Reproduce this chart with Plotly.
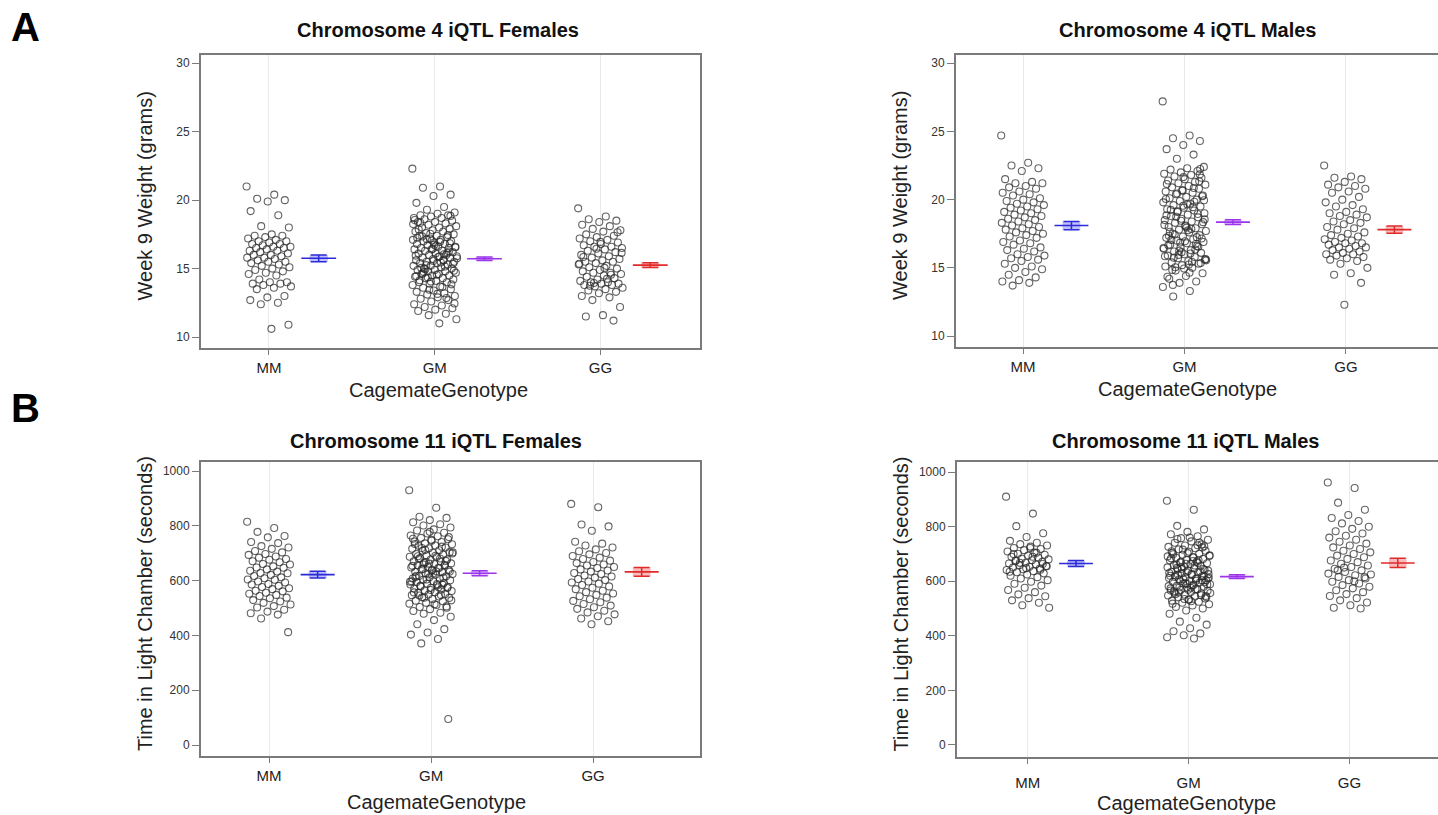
import plotly.graph_objects as go

W, H = 1438, 815

genotypes = ["MM", "GM", "GG"]
positions = [1, 2, 3]

# ---------------- Chromosome 4 iQTL Females: Week 9 weight (g) ----------------
f4_mm = [21.0, 20.4, 20.1, 20.0, 19.9, 19.2, 18.9, 18.1, 18.0, 17.5, 17.4, 17.4, 17.3, 17.2, 17.1,
         17.0, 17.0, 16.9, 16.8, 16.8, 16.7, 16.6, 16.6, 16.5, 16.5, 16.4, 16.3, 16.3, 16.2, 16.1,
         16.0, 16.0, 15.9, 15.8, 15.8, 15.7, 15.6, 15.5, 15.5, 15.4, 15.3, 15.2, 15.1, 15.0, 14.9,
         14.8, 14.7, 14.6, 14.5, 14.2, 14.0, 14.0, 13.9, 13.9, 13.8, 13.7, 13.6, 13.5, 13.0, 12.9,
         12.7, 12.5, 12.4, 10.9, 10.6]
f4_gm = [22.3, 21.0, 20.9, 20.4, 20.3, 19.8, 19.5, 19.3, 19.1, 19.0, 18.9, 18.9, 18.8, 18.7, 18.7,
         18.6, 18.5, 18.4, 18.4, 18.3, 18.2, 18.1, 18.0, 18.0, 17.9, 17.8, 17.7, 17.7, 17.6, 17.5,
         17.4, 17.4, 17.3, 17.2, 17.1, 17.1, 17.0, 17.0, 16.9, 16.8, 16.8, 16.7, 16.6, 16.6, 16.5,
         16.5, 16.4, 16.4, 16.3, 16.3, 16.2, 16.1, 16.1, 16.0, 16.0, 15.9, 15.9, 15.8, 15.8, 15.7,
         15.6, 15.6, 15.5, 15.5, 15.4, 15.4, 15.3, 15.2, 15.2, 15.1, 15.0, 15.0, 14.9, 14.9, 14.8,
         14.8, 14.7, 14.6, 14.6, 14.5, 14.5, 14.4, 14.3, 14.3, 14.2, 14.1, 14.0, 14.0, 13.9, 13.8,
         13.7, 13.6, 13.5, 13.4, 13.3, 13.2, 13.1, 13.0, 12.9, 12.8, 12.7, 12.6, 12.4, 12.3, 12.2,
         12.1, 12.0, 11.9, 11.7, 11.6, 11.3, 11.0,
         17.35, 16.85, 16.45, 15.95, 15.65, 15.25, 14.85, 14.55, 14.15, 16.15, 17.55, 18.25, 15.45,
         14.75, 13.85, 16.75, 17.25, 15.15, 14.35, 16.55, 15.85, 15.05, 16.25, 17.05, 18.55, 13.65,
         14.95, 15.35, 16.65, 17.85, 12.85, 13.45, 15.75, 16.95, 14.65, 18.85, 15.55, 14.45, 16.05,
         17.15, 12.45, 13.15, 18.35, 17.45, 14.05]
f4_gg = [19.4, 18.8, 18.6, 18.5, 18.4, 18.2, 18.1, 17.9, 17.8, 17.7, 17.5, 17.4, 17.3, 17.2, 17.1,
         17.0, 16.9, 16.8, 16.7, 16.6, 16.6, 16.5, 16.4, 16.3, 16.2, 16.1, 16.0, 15.9, 15.8, 15.7,
         15.6, 15.5, 15.5, 15.4, 15.3, 15.2, 15.1, 15.0, 14.9, 14.8, 14.7, 14.7, 14.6, 14.5, 14.4,
         14.3, 14.2, 14.1, 14.0, 14.0, 13.9, 13.9, 13.8, 13.8, 13.7, 13.6, 13.5, 13.4, 13.3, 13.2,
         13.0, 12.9, 12.7, 12.2, 11.6, 11.5, 11.2, 16.45, 15.35, 14.25, 13.75, 17.65, 16.95, 15.85,
         14.55, 13.95, 16.15, 15.05]
f4_means = [15.75, 15.72, 15.25]
f4_se = [0.25, 0.13, 0.17]

# ---------------- Chromosome 4 iQTL Males: Week 9 weight (g) ----------------
m4_mm = [24.7, 22.7, 22.5, 22.3, 22.1, 21.5, 21.3, 21.2, 21.2, 21.0, 20.9, 20.8, 20.6, 20.5, 20.4,
         20.3, 20.1, 20.0, 19.9, 19.8, 19.7, 19.6, 19.5, 19.4, 19.3, 19.2, 19.1, 19.0, 18.9, 18.8,
         18.7, 18.6, 18.5, 18.4, 18.3, 18.2, 18.1, 18.0, 17.9, 17.8, 17.7, 17.6, 17.5, 17.4, 17.3,
         17.2, 17.0, 16.9, 16.8, 16.7, 16.5, 16.4, 16.3, 16.2, 16.0, 15.9, 15.8, 15.7, 15.6, 15.5,
         15.3, 15.1, 15.0, 14.9, 14.7, 14.5, 14.3, 14.1, 14.0, 13.9, 13.7]
m4_gm = [27.2, 24.7, 24.5, 24.3, 24.0, 23.7, 23.3, 23.0, 22.4, 22.3, 22.2, 22.1, 22.0, 21.9, 21.8,
         21.7, 21.6, 21.5, 21.4, 21.3, 21.2, 21.1, 21.0, 20.9, 20.8, 20.7, 20.6, 20.5, 20.4, 20.3,
         20.2, 20.1, 20.0, 19.9, 19.8, 19.7, 19.6, 19.5, 19.4, 19.3, 19.2, 19.1, 19.0, 18.9, 18.8,
         18.7, 18.6, 18.5, 18.4, 18.3, 18.2, 18.1, 18.0, 17.9, 17.8, 17.7, 17.6, 17.5, 17.4, 17.3,
         17.2, 17.1, 17.0, 16.9, 16.8, 16.7, 16.6, 16.5, 16.4, 16.3, 16.2, 16.1, 16.0, 15.9, 15.8,
         15.7, 15.6, 15.5, 15.4, 15.3, 15.2, 15.1, 15.0, 14.8, 14.6, 14.4, 14.2, 14.0, 13.9, 13.6,
         13.3, 12.9,
         22.25, 21.65, 21.15, 20.85, 20.45, 19.95, 19.65, 19.25, 18.95, 18.45, 18.15, 17.85, 17.45,
         17.15, 16.95, 16.65, 16.35, 15.95, 15.65, 15.25, 14.85, 21.35, 20.65, 20.05, 19.45, 18.75,
         18.35, 17.95, 17.65, 17.25, 16.85, 16.45, 16.05, 15.75, 15.35, 14.95, 14.35, 19.85, 19.15,
         18.55, 17.75, 17.05, 16.55, 16.15, 15.85, 15.45, 15.05, 20.25, 18.05, 17.35, 16.75, 16.25,
         15.55, 14.65, 13.75, 21.85, 19.55, 18.85]
m4_gg = [22.5, 21.7, 21.6, 21.5, 21.3, 21.1, 21.0, 20.9, 20.8, 20.6, 20.5, 20.2, 20.0, 19.8, 19.6,
         19.5, 19.3, 19.1, 19.0, 18.9, 18.8, 18.7, 18.5, 18.4, 18.3, 18.2, 18.0, 17.9, 17.8, 17.6,
         17.5, 17.4, 17.3, 17.2, 17.1, 17.0, 16.9, 16.8, 16.8, 16.7, 16.6, 16.5, 16.5, 16.4, 16.3,
         16.2, 16.1, 16.0, 16.0, 15.9, 15.8, 15.7, 15.6, 15.5, 15.3, 15.0, 14.6, 14.5, 13.9, 12.3]
m4_means = [18.1, 18.35, 17.8]
m4_se = [0.3, 0.17, 0.26]

# ---------------- Chromosome 11 iQTL Females: time in light chamber (s) ----------------
f11_mm = [815, 792, 778, 763, 758, 741, 737, 726, 721, 716, 708, 703, 697, 694, 688, 684, 679, 676,
          671, 667, 661, 659, 652, 648, 647, 641, 636, 633, 628, 627, 621, 617, 612, 609, 604, 603,
          597, 593, 588, 586, 581, 577, 572, 569, 563, 561, 556, 552, 548, 544, 538, 536, 529, 524,
          519, 513, 507, 502, 494, 487, 481, 476, 462, 412]
f11_gm = [930, 866, 833, 829, 821, 813, 806, 801, 794, 787, 783, 775, 772, 765, 762, 756, 751, 749,
          743, 741, 736, 733, 728, 727, 721, 718, 716, 711, 709, 704, 702, 697, 695, 692, 687, 686,
          682, 677, 676, 671, 669, 665, 663, 661, 656, 655, 650, 648, 646, 641, 639, 637, 632, 631,
          627, 624, 622, 617, 616, 612, 608, 607, 603, 601, 597, 595, 591, 589, 586, 583, 579, 577,
          574, 571, 568, 564, 562, 558, 556, 551, 549, 547, 542, 539, 537, 533, 527, 525, 519, 516,
          511, 504, 501, 496, 489, 483, 479, 468, 456, 441, 423, 411, 403, 387, 371, 95,
          746, 734, 724, 712, 699, 691, 679, 672, 662, 654, 647, 643, 633, 626, 618, 611, 604, 596,
          588, 581, 573, 566, 557, 548, 538, 528, 514, 689, 657, 623, 598, 576, 719, 759, 640, 613,
          585, 668, 703, 634, 546, 506, 778, 753, 681, 659]
f11_gg = [880, 868, 805, 798, 782, 742, 735, 728, 721, 714, 707, 701, 696, 690, 684, 679, 673, 668,
          664, 659, 655, 650, 646, 641, 637, 633, 628, 624, 619, 615, 611, 606, 602, 597, 593, 589,
          584, 579, 574, 569, 563, 558, 553, 548, 543, 538, 532, 526, 521, 515, 509, 503, 497, 490,
          484, 477, 470, 462, 452, 441]
f11_means = [622, 627, 632]
f11_se = [12, 9, 16]

# ---------------- Chromosome 11 iQTL Males: time in light chamber (s) ----------------
m11_mm = [910, 848, 802, 776, 762, 748, 741, 736, 731, 727, 722, 718, 714, 709, 705, 701, 697, 694,
          690, 687, 683, 680, 677, 674, 671, 668, 665, 662, 659, 656, 653, 650, 647, 644, 641, 637,
          633, 629, 625, 620, 615, 610, 604, 598, 591, 584, 576, 568, 560, 552, 545, 538, 530, 521,
          512, 503, 690, 676, 663, 648, 635, 704, 668, 655, 722, 700, 642]
m11_gm = [895, 862, 803, 790, 781, 772, 765, 758, 752, 746, 741, 735, 731, 726, 721, 717, 712, 708,
          704, 701, 697, 693, 689, 686, 682, 679, 676, 672, 669, 666, 663, 659, 656, 653, 651, 647,
          644, 641, 638, 635, 632, 629, 626, 623, 621, 618, 615, 612, 609, 607, 604, 601, 598, 595,
          592, 589, 586, 583, 580, 577, 574, 571, 568, 565, 561, 558, 555, 551, 548, 544, 541, 537,
          533, 529, 525, 521, 516, 511, 506, 500, 493, 481, 466, 452, 441, 428, 417, 409, 402, 395,
          390, 755, 728, 703, 684, 667, 652, 639, 627, 616, 604, 593, 582, 571, 559, 546, 532, 518,
          742, 716, 695, 674, 661, 645, 633, 620, 611, 599, 588, 576, 563, 549, 535, 691, 658, 624,
          596, 569, 710, 677, 646, 613, 584, 553, 724, 664, 630, 602, 578, 541, 760, 699, 636, 607,
          557, 687, 649, 619, 590, 566, 732, 671, 610, 527]
m11_gg = [962, 942, 888, 862, 843, 832, 821, 812, 800, 792, 783, 775, 767, 760, 752, 745, 738, 731,
          724, 718, 712, 706, 700, 694, 688, 682, 676, 670, 664, 658, 652, 646, 640, 634, 628, 622,
          616, 610, 604, 598, 592, 586, 580, 574, 567, 560, 553, 546, 538, 530, 522, 512, 503, 500,
          650, 625, 600, 640, 615]
m11_means = [665, 617, 667]
m11_se = [11, 7, 17]

group_colors = ["#2a2ad8", "#9b35ec", "#e02a2a"]
shade_colors = ["rgba(70,70,235,0.35)", "rgba(170,80,240,0.35)", "rgba(235,60,60,0.35)"]

FONT = "Liberation Sans, Arial, sans-serif"

# panel geometry in pixels: left, right, top, bottom ; x range ; y range ; y ticks
panels = [
    dict(groups=[f4_mm, f4_gm, f4_gg], means=f4_means, se=f4_se,
         px=(201, 700, 55, 348), xr=[0.59, 3.60], yr=[9.2, 30.6], yt=[10, 15, 20, 25, 30],
         title="Chromosome 4 iQTL Females", tcx=438, tcy=30, ytitle="Week 9 Weight (grams)",
         ytx=145, xtcy=390, right=False, standoff=0),
    dict(groups=[m4_mm, m4_gm, m4_gg], means=m4_means, se=m4_se,
         px=(956, 1438, 55, 347), xr=[0.585, 3.57], yr=[9.2, 30.6], yt=[10, 15, 20, 25, 30],
         title="Chromosome 4 iQTL Males", tcx=1187, tcy=30, ytitle="Week 9 Weight (grams)",
         ytx=900, xtcy=389, right=True, standoff=0),
    dict(groups=[f11_mm, f11_gm, f11_gg], means=f11_means, se=f11_se,
         px=(201, 700, 462, 756), xr=[0.58, 3.66], yr=[-40, 1033], yt=[0, 200, 400, 600, 800, 1000],
         title="Chromosome 11 iQTL Females", tcx=436, tcy=441, ytitle="Time in Light Chamber (seconds)",
         ytx=145, xtcy=802, right=False, standoff=0),
    dict(groups=[m11_mm, m11_gm, m11_gg], means=m11_means, se=m11_se,
         px=(957, 1438, 462, 757), xr=[0.56, 3.55], yr=[-44, 1037], yt=[0, 200, 400, 600, 800, 1000],
         title="Chromosome 11 iQTL Males", tcx=1186, tcy=441, ytitle="Time in Light Chamber (seconds)",
         ytx=900, xtcy=803, right=True, standoff=6),
]

GOLD = 0.6180339887
JIT_W = 0.27      # jitter band width (x units)
MEAN_OFF = 0.30   # mean bar offset from category
MEAN_HW = 0.105   # half-width of mean line
CAP_HW = 0.055    # half-width of SE caps / shading

fig = go.Figure()
annotations = []
layout = {}

for i, p in enumerate(panels, start=1):
    xa = "x" if i == 1 else f"x{i}"
    ya = "y" if i == 1 else f"y{i}"
    l, r, t, b = p["px"]
    for g, (pos, vals) in enumerate(zip(positions, p["groups"])):
        offs = [((k * GOLD) % 1.0 - 0.5) * JIT_W for k in range(len(vals))]
        fig.add_trace(go.Scatter(
            x=[pos + o for o in offs], y=vals, xaxis=xa, yaxis=ya, mode="markers",
            marker=dict(symbol="circle-open", size=7, color="rgba(40,40,40,0.72)",
                        line=dict(width=1.1)),
            showlegend=False, hoverinfo="y"))
        m, s = p["means"][g], p["se"][g]
        cx = pos + MEAN_OFF
        col = group_colors[g]
        fig.add_trace(go.Scatter(
            x=[cx - CAP_HW, cx + CAP_HW, cx + CAP_HW, cx - CAP_HW, cx - CAP_HW],
            y=[m - s, m - s, m + s, m + s, m - s], xaxis=xa, yaxis=ya,
            mode="lines", fill="toself", fillcolor=shade_colors[g],
            line=dict(width=0), showlegend=False, hoverinfo="skip"))
        fig.add_trace(go.Scatter(
            x=[cx - MEAN_HW, cx + MEAN_HW], y=[m, m], xaxis=xa, yaxis=ya, mode="lines",
            line=dict(color=col, width=1.6), showlegend=False, hoverinfo="skip"))
        fig.add_trace(go.Scatter(
            x=[cx], y=[m], xaxis=xa, yaxis=ya, mode="markers",
            marker=dict(size=1, color="rgba(0,0,0,0)"),
            error_y=dict(type="data", array=[s], symmetric=True, color=col, thickness=1.5, width=8),
            showlegend=False, hoverinfo="skip"))

    xdom = [l / W, r / W]
    ydom = [1 - b / H, 1 - t / H]
    layout["xaxis" if i == 1 else f"xaxis{i}"] = dict(
        domain=xdom, range=p["xr"], anchor=ya, tickvals=positions, ticktext=genotypes,
        showgrid=True, gridcolor="#e9e9e9", gridwidth=1, zeroline=False,
        showline=True, linecolor="#7a7a7a", linewidth=2, mirror=True,
        ticks="outside", ticklen=5, tickcolor="#7a7a7a", ticklabelstandoff=p["standoff"],
        tickfont=dict(family=FONT, size=15, color="#222"), fixedrange=True)
    layout["yaxis" if i == 1 else f"yaxis{i}"] = dict(
        domain=ydom, range=p["yr"], anchor=xa, tickvals=p["yt"],
        showgrid=False, zeroline=False, showline=True, linecolor="#7a7a7a", linewidth=2,
        mirror=not p["right"], ticks="outside", ticklen=7, tickcolor="#7a7a7a",
        tickfont=dict(family=FONT, size=12, color="#333"), fixedrange=True)
    annotations.append(dict(text=f"<b>{p['title']}</b>", xref="paper", yref="paper",
                            x=p["tcx"] / W, y=1 - p["tcy"] / H, showarrow=False,
                            xanchor="center", yanchor="middle",
                            font=dict(family=FONT, size=20, color="#111")))
    annotations.append(dict(text=p["ytitle"], xref="paper", yref="paper", textangle=-90,
                            x=p["ytx"] / W, y=1 - ((t + b) / 2 - 5) / H, showarrow=False,
                            xanchor="center", yanchor="middle",
                            font=dict(family=FONT, size=20, color="#222")))
    annotations.append(dict(text="CagemateGenotype", xref="paper", yref="paper",
                            x=p["tcx"] / W, y=1 - p["xtcy"] / H, showarrow=False,
                            xanchor="center", yanchor="middle",
                            font=dict(family=FONT, size=20, color="#222")))

for lab, yy in [("A", 27), ("B", 408)]:
    annotations.append(dict(text=f"<b>{lab}</b>", xref="paper", yref="paper",
                            x=25 / W, y=1 - yy / H, showarrow=False,
                            xanchor="center", yanchor="middle",
                            font=dict(family=FONT, size=40, color="#000")))

fig.update_layout(width=W, height=H, margin=dict(l=0, r=0, t=0, b=0),
                  paper_bgcolor="white", plot_bgcolor="white",
                  annotations=annotations, showlegend=False, **layout)

fig.write_html("out.html", config={"displayModeBar": False},
               post_script="document.body.style.margin='0';document.body.style.overflow='hidden';")
